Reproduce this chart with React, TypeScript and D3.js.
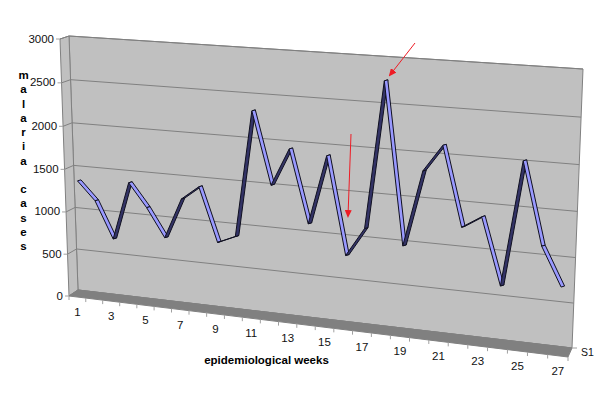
import React from 'react';
import * as d3 from 'd3';

const weeks = d3.range(1, 28);
const cases = [1350, 1135, 705, 1385, 1115, 785, 1255, 1415, 795, 885, 2325, 1510, 1935, 1115, 1895, 800, 1125, 2760, 975, 1820, 2115, 1245, 1380, 645, 2020, 1125, 705];
const valueTicks = [0, 500, 1000, 1500, 2000, 2500, 3000];
const yTitle = ['m', 'a', 'l', 'a', 'r', 'i', 'a', '', 'c', 'a', 's', 'e', 's'];
const seriesName = 'S1';
const xTitle = 'epidemiological weeks';

type Pt = [number, number];
const font = '"Liberation Sans", Arial, sans-serif';

// unit square -> quad (tl, tr, br, bl), u along the weeks, v up the values
function plane(tl: Pt, tr: Pt, br: Pt, bl: Pt) {
    const [x0, y0] = bl, [x1, y1] = br, [x2, y2] = tr, [x3, y3] = tl;
    const dx1 = x1 - x2, dx2 = x3 - x2, sx = x0 - x1 + x2 - x3;
    const dy1 = y1 - y2, dy2 = y3 - y2, sy = y0 - y1 + y2 - y3;
    const den = dx1 * dy2 - dx2 * dy1;
    const g = (sx * dy2 - dx2 * sy) / den;
    const h = (dx1 * sy - sx * dy1) / den;
    const a = x1 - x0 + g * x1, b = x3 - x0 + h * x3;
    const d = y1 - y0 + g * y1, e = y3 - y0 + h * y3;
    return (u: number, v: number): Pt => {
        const w = g * u + h * v + 1;
        return [(a * u + b * v + x0) / w, (d * u + e * v + y0) / w];
    };
}

const back = plane([69, 36], [583, 69], [572, 348], [78, 290]);
const mid = plane([64, 37.5], [577.5, 71], [569.5, 352.5], [73, 293]);
const front = plane([60, 39], [574, 74], [568, 357], [69, 296]);

const u = d3.scaleBand<number>().domain(weeks).range([0, 1]);
const v = d3.scaleLinear().domain([0, 3000]).range([0, 1]);
const line = d3.line();

const ribbon: Pt = [3.5, -1];
const uc = (w: number) => (u(w) as number) + u.bandwidth() / 2;

function poly(p: Pt[]) {
    return line(p) + 'Z';
}

const App = () => {
    const pts = weeks.map((w, i) => mid(uc(w), v(cases[i])));
    return (
        <svg width={600} height={402} style={{ position: 'absolute', left: 0, top: 0 }} fontFamily={font}>
            <defs>
                <marker id="head" markerWidth="8" markerHeight="7" refX="6" refY="3.5" orient="auto" markerUnits="userSpaceOnUse">
                    <path d="M0,0L8,3.5L0,7Z" fill="#ee1c25" />
                </marker>
            </defs>
            <rect width={600} height={402} fill="#fff" />
            <path d={poly([back(0, 1), back(1, 1), back(1, 0), back(0, 0)])} fill="#c0c0c0" stroke="#808080" />
            <path d={poly([front(0, 1), back(0, 1), back(0, 0), front(0, 0)])} fill="#c0c0c0" stroke="#808080" />
            <path d={poly([front(0, 0), back(0, 0), back(1, 0), front(1, 0)])} fill="#808080" stroke="#808080" />
            {valueTicks.map(t => (
                <g key={t}>
                    <path d={line([front(0, v(t)), back(0, v(t)), back(1, v(t))]) as string} fill="none" stroke="#808080" strokeWidth={1} />
                    <path d={line([front(0, v(t)), [front(0, v(t))[0] - 4, front(0, v(t))[1]]]) as string} stroke="#a0a0a0" />
                    <text x={front(0, v(t))[0] - 6} y={front(0, v(t))[1] + 0.5} textAnchor="end" dominantBaseline="middle" fontSize={11.5} fill="#111">{t}</text>
                </g>
            ))}
            {d3.range(0, 28).map(k => {
                const p = front(k / 27, 0);
                return <path key={k} d={line([p, [p[0], p[1] + 4]]) as string} stroke="#a0a0a0" />;
            })}
            {weeks.filter(w => w % 2 === 1).map(w => {
                const p = front(uc(w), 0);
                return <text key={w} x={p[0]} y={p[1] + 16} textAnchor="middle" dominantBaseline="middle" fontSize={11.5} fill="#111">{w}</text>;
            })}
            {pts.slice(1).map((p, i) => {
                const q = pts[i];
                const falling = p[1] > q[1];
                const shape: Pt[] = [q, p, [p[0] + ribbon[0], p[1] + ribbon[1]], [q[0] + ribbon[0], q[1] + ribbon[1]]];
                return <path key={i} d={poly(shape)} fill={falling ? '#9999ff' : '#333366'} stroke="#101020" strokeWidth={1} strokeLinejoin="round" />;
            })}
            <path d={line([[415, 43], [390, 75]]) as string} stroke="#ee1c25" markerEnd="url(#head)" />
            <path d={line([[351, 134], [348, 216]]) as string} stroke="#ee1c25" markerEnd="url(#head)" />
            {yTitle.map((c, i) => (
                <text key={i} x={23.5} y={76 + i * 14.25} textAnchor="middle" dominantBaseline="middle" fontSize={11.5} fontWeight="bold" fill="#000">{c}</text>
            ))}
            <text x={266.5} y={361} textAnchor="middle" dominantBaseline="middle" fontSize={11.5} fontWeight="bold" fill="#000">{xTitle}</text>
            <path d={line([back(1, 0), [back(1, 0)[0] + 5, back(1, 0)[1]]]) as string} stroke="#a0a0a0" />
            <text x={581} y={353.5} dominantBaseline="middle" fontSize={10.5} fill="#111">{seriesName}</text>
        </svg>
    );
};

export default App;
